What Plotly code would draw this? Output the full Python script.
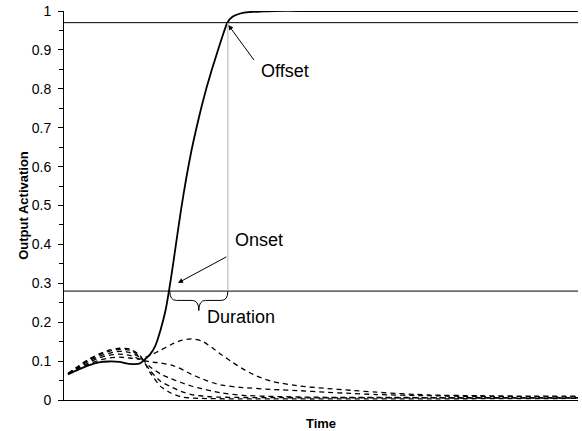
import plotly.graph_objects as go

# ---- data ----
solid_t = [0, 2, 4, 6, 8, 10, 12, 14, 15, 16, 17, 18, 19, 20, 21, 22, 23, 24, 25, 26, 27, 28, 29, 30, 31,
           32, 34, 36, 38, 40, 45, 50, 60, 70, 80, 90, 99.2]
solid_y = [0.066, 0.078, 0.089, 0.097, 0.099, 0.098, 0.093, 0.094, 0.105, 0.118, 0.14, 0.18, 0.232, 0.31,
           0.40, 0.49, 0.57, 0.64, 0.70, 0.755, 0.805, 0.85, 0.892, 0.933, 0.97,
           0.985, 0.995, 0.998, 0.999, 1.0, 1.0, 1.0, 1.0, 1.0, 1.0, 1.0, 1.0]

dash_a_t = [0, 2, 4, 6, 8, 10, 12, 14, 16, 18, 20, 22, 24, 26, 28, 30, 32, 34, 36, 38, 40, 45, 50, 55, 60, 70, 80, 90, 99.2]
dash_a_y = [0.068, 0.08, 0.092, 0.102, 0.108, 0.11, 0.108, 0.105, 0.115, 0.128, 0.142, 0.153, 0.157, 0.152,
            0.135, 0.115, 0.097, 0.08, 0.066, 0.055, 0.047, 0.036, 0.03, 0.025, 0.02, 0.013, 0.011, 0.01, 0.01]

dash_b_t = [0, 2, 4, 6, 8, 10, 12, 14, 16, 18, 20, 22, 24, 26, 28, 30, 34, 40, 45, 50, 55, 60, 70, 80, 99.2]
dash_b_y = [0.068, 0.082, 0.096, 0.108, 0.115, 0.118, 0.115, 0.105, 0.098, 0.095, 0.09, 0.08, 0.066, 0.055,
            0.045, 0.038, 0.032, 0.027, 0.024, 0.02, 0.017, 0.014, 0.011, 0.009, 0.008]

dash_c_t = [0, 2, 4, 6, 8, 10, 12, 14, 16, 18, 20, 22, 24, 26, 28, 30, 34, 40, 50, 99.2]
dash_c_y = [0.068, 0.084, 0.1, 0.112, 0.12, 0.125, 0.122, 0.11, 0.085, 0.067, 0.055, 0.045, 0.036, 0.029,
            0.023, 0.018, 0.012, 0.009, 0.007, 0.006]

dash_d_t = [0, 2, 4, 6, 8, 10, 12, 14, 16, 18, 20, 22, 24, 28, 40, 99.2]
dash_d_y = [0.068, 0.086, 0.103, 0.116, 0.125, 0.13, 0.128, 0.112, 0.075, 0.048, 0.034, 0.022, 0.014, 0.008, 0.006, 0.005]

dash_e_t = [0, 2, 4, 6, 8, 10, 12, 14, 16, 18, 20, 22, 26, 99.2]
dash_e_y = [0.068, 0.087, 0.105, 0.118, 0.128, 0.133, 0.131, 0.115, 0.07, 0.035, 0.018, 0.008, 0.004, 0.004]

onset_level = 0.28
offset_level = 0.97
onset_time = 19.8
offset_time = 31.1

y_ticks = [0, 0.1, 0.2, 0.3, 0.4, 0.5, 0.6, 0.7, 0.8, 0.9, 1]
y_tick_text = ["0", "0.1", "0.2", "0.3", "0.4", "0.5", "0.6", "0.7", "0.8", "0.9", "1"]

FONT = "Arial, Liberation Sans, sans-serif"

fig = go.Figure()
dash_style = dict(color="black", width=1.3, dash="5px,4px", shape="spline", smoothing=0.6)
for tt, yy in [(dash_a_t, dash_a_y), (dash_b_t, dash_b_y), (dash_c_t, dash_c_y),
               (dash_d_t, dash_d_y), (dash_e_t, dash_e_y)]:
    fig.add_trace(go.Scatter(x=tt, y=yy, mode="lines", line=dash_style, showlegend=False, hoverinfo="skip"))

fig.add_trace(go.Scatter(x=solid_t, y=solid_y, mode="lines",
                         line=dict(color="black", width=1.8, shape="spline", smoothing=0.6),
                         showlegend=False, hoverinfo="skip"))

# threshold lines
for lvl in (onset_level, offset_level):
    fig.add_shape(type="line", xref="paper", x0=0, x1=1, yref="y", y0=lvl, y1=lvl,
                  line=dict(color="black", width=1))
# duration vertical marker
fig.add_shape(type="line", xref="x", yref="y", x0=offset_time, x1=offset_time,
              y0=onset_level, y1=offset_level, line=dict(color="#b0b0b0", width=1))

# curly brace under the onset line
x0, x1 = onset_time, offset_time
xm = (x0 + x1) / 2
y0 = onset_level
ya = onset_level - 0.024
yp = onset_level - 0.05
r = 1.3
path = (f"M {x0},{y0} Q {x0},{ya} {x0 + r},{ya} L {xm - r},{ya} Q {xm},{ya} {xm},{yp} "
        f"Q {xm},{ya} {xm + r},{ya} L {x1 - r},{ya} Q {x1},{ya} {x1},{y0}")
fig.add_shape(type="path", path=path, xref="x", yref="y", line=dict(color="black", width=1))

# annotations
txt_font = dict(family=FONT, size=18, color="black")
fig.add_annotation(x=offset_time + 11.1, y=0.846, text="Offset", showarrow=False, font=txt_font)
fig.add_annotation(x=offset_time + 0.1, y=0.964, ax=offset_time + 5.3, ay=0.87, axref="x", ayref="y",
                   text="", showarrow=True, arrowhead=2, arrowsize=1, arrowwidth=1, arrowcolor="black")
fig.add_annotation(x=offset_time + 6.0, y=0.412, text="Onset", showarrow=False, font=txt_font)
fig.add_annotation(x=onset_time + 1.6, y=0.301, ax=offset_time, ay=0.37, axref="x", ayref="y",
                   text="", showarrow=True, arrowhead=2, arrowsize=1, arrowwidth=1, arrowcolor="black")
fig.add_annotation(x=offset_time + 2.6, y=0.213, text="Duration", showarrow=False, font=txt_font)

fig.update_layout(
    width=582, height=431,
    margin=dict(l=64, r=4, t=11, b=31),
    paper_bgcolor="white", plot_bgcolor="white",
    font=dict(family=FONT, color="black"),
    xaxis=dict(range=[-0.78, 99.22], showgrid=False, zeroline=False, showline=True, automargin=False,
               linecolor="black", linewidth=1, ticks="", showticklabels=False,
               title=dict(text="<b>Time</b>", font=dict(family=FONT, size=13), standoff=26)),
    yaxis=dict(range=[0, 1], showgrid=False, zeroline=False, showline=True, automargin=False,
               linecolor="black", linewidth=1, ticks="outside", ticklen=5, tickcolor="black",
               tickvals=y_ticks, ticktext=y_tick_text, tickfont=dict(family=FONT, size=14),
               ticklabelstandoff=4, ticklabeloverflow="allow",
               minor=dict(dtick=0.05, ticks="outside", ticklen=4, tickcolor="black"),
               title=dict(text="<b>Output Activation</b>", font=dict(family=FONT, size=13), standoff=0)),
)

# remove the default page margin so the figure sits at the window's top-left corner
fig.write_html("out.html",
               config={"displayModeBar": False, "staticPlot": True},
               post_script="document.body.style.margin='0';document.body.style.overflow='hidden';")
